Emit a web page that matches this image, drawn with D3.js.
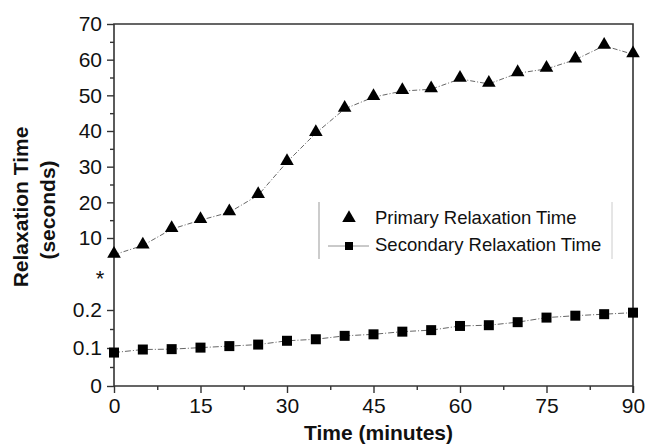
<!DOCTYPE html>
<html>
<head>
<meta charset="utf-8">
<script src="https://cdn.jsdelivr.net/npm/d3@7"></script>
<style>
    body { margin: 0; background: #fff; }
    text { font-family: "Liberation Sans", Arial, sans-serif; fill: #111; }
    .axis line, .axis path { stroke: #333; stroke-width: 1.4px; }
</style>
</head>
<body>
<div id="the_chart"></div>
<script>
// minutes
const times = [0, 5, 10, 15, 20, 25, 30, 35, 40, 45, 50, 55, 60, 65, 70, 75, 80, 85, 90];
// primary relaxation time (s)
const primary = [5.3, 7.9, 12.5, 15.0, 17.2, 22.0, 31.3, 39.4, 46.2, 49.5, 51.2, 51.7, 54.6, 53.2, 56.2, 57.4, 60.0, 63.9, 61.5];
// secondary relaxation time (s)
const secondary = [0.088, 0.096, 0.097, 0.101, 0.105, 0.109, 0.119, 0.123, 0.132, 0.136, 0.143, 0.147, 0.158, 0.160, 0.168, 0.180, 0.185, 0.189, 0.193];
const xTicks = [0, 15, 30, 45, 60, 75, 90];
const upperTicks = [10, 20, 30, 40, 50, 60, 70];
const lowerTicks = [0, 0.1, 0.2];
const seriesNames = ["Primary Relaxation Time", "Secondary Relaxation Time"];

var w = 648, h = 444;
var pLeft = 114, pRight = 633, pTop = 24, pBottom = 386;

var svg = d3.select("#the_chart").append("svg")
    .attr("width", w)
    .attr("height", h);

var x = d3.scaleLinear().domain([0, 90]).range([pLeft, pRight]);
// broken y axis: two scales stacked
var yUp = d3.scaleLinear().domain([4, 70]).range([259.4, pTop]);
var yLow = d3.scaleLinear().domain([0, 0.25]).range([pBottom, 291]);

// x axis
svg.append("g")
    .attr("class", "axis")
    .attr("transform", "translate(0," + pBottom + ")")
    .call(d3.axisBottom(x).tickValues(d3.range(7.5, 90, 15)).tickSize(4).tickFormat(""))
    .call(g => g.select(".domain").remove());
svg.append("g")
    .attr("class", "axis")
    .attr("transform", "translate(0," + pBottom + ")")
    .call(d3.axisBottom(x).tickValues(xTicks).tickSize(7).tickPadding(5).tickFormat(d3.format("d")))
    .call(g => g.select(".domain").remove())
    .call(g => g.selectAll("text").style("font-size", "21px"));

// upper y axis
svg.append("g")
    .attr("class", "axis")
    .attr("transform", "translate(" + pLeft + ",0)")
    .call(d3.axisLeft(yUp).tickValues(d3.range(15, 70, 10)).tickSize(4).tickFormat(""))
    .call(g => g.select(".domain").remove());
svg.append("g")
    .attr("class", "axis")
    .attr("transform", "translate(" + pLeft + ",0)")
    .call(d3.axisLeft(yUp).tickValues(upperTicks).tickSize(7).tickPadding(5).tickFormat(d3.format("d")))
    .call(g => g.select(".domain").remove())
    .call(g => g.selectAll("text").style("font-size", "21px"));

// lower y axis
svg.append("g")
    .attr("class", "axis")
    .attr("transform", "translate(" + pLeft + ",0)")
    .call(d3.axisLeft(yLow).tickValues([0.05, 0.15]).tickSize(4).tickFormat(""))
    .call(g => g.select(".domain").remove());
svg.append("g")
    .attr("class", "axis")
    .attr("transform", "translate(" + pLeft + ",0)")
    .call(d3.axisLeft(yLow).tickValues(lowerTicks).tickSize(7).tickPadding(5).tickFormat(d => d == 0 ? "0" : d3.format(".1f")(d)))
    .call(g => g.select(".domain").remove())
    .call(g => g.selectAll("text").style("font-size", "21px"));

// frame
svg.append("path")
    .attr("d", `M${pLeft},${pBottom}V${pTop}H${pRight}V${pBottom + 7}M${pLeft},${pBottom}H${pRight}`)
    .attr("fill", "none")
    .attr("stroke", "#333")
    .attr("stroke-width", 1.6);

// break marker
svg.append("text")
    .attr("x", 100)
    .attr("y", 286)
    .attr("text-anchor", "middle")
    .style("font-size", "22px")
    .text("*");

// axis titles
svg.append("text")
    .attr("x", x(45) + 5)
    .attr("y", 440)
    .attr("text-anchor", "middle")
    .style("font-size", "21px")
    .style("font-weight", "bold")
    .text("Time (minutes)");
svg.append("text")
    .attr("transform", "translate(28,207) rotate(-90)")
    .attr("text-anchor", "middle")
    .style("font-size", "21px")
    .style("font-weight", "bold")
    .text("Relaxation Time");
svg.append("text")
    .attr("transform", "translate(55,210) rotate(-90)")
    .attr("text-anchor", "middle")
    .style("font-size", "21px")
    .style("font-weight", "bold")
    .text("(seconds)");

// lines
var lineUp = d3.line().x((d, i) => x(times[i])).y(d => yUp(d));
var lineLow = d3.line().x((d, i) => x(times[i])).y(d => yLow(d));

svg.append("path")
    .attr("d", lineUp(primary))
    .attr("fill", "none")
    .attr("stroke", "#555")
    .attr("stroke-width", 0.9)
    .attr("stroke-dasharray", "5,2,1,2");
svg.append("path")
    .attr("d", lineLow(secondary))
    .attr("fill", "none")
    .attr("stroke", "#555")
    .attr("stroke-width", 0.9)
    .attr("stroke-dasharray", "6,2,1,2");

var tri = d3.symbol().type(d3.symbolTriangle).size(80);
var sq = d3.symbol().type(d3.symbolSquare).size(100);

svg.selectAll(".tri")
    .data(primary)
    .enter().append("path")
    .attr("class", "tri")
    .attr("d", tri)
    .attr("transform", (d, i) => "translate(" + x(times[i]) + "," + (yUp(d) - 1) + ")")
    .attr("fill", "#000");

svg.selectAll(".sq")
    .data(secondary)
    .enter().append("path")
    .attr("class", "sq")
    .attr("d", sq)
    .attr("transform", (d, i) => "translate(" + x(times[i]) + "," + yLow(d) + ")")
    .attr("fill", "#000");

// legend
var lg = svg.append("g");
lg.append("line").attr("x1", 319).attr("x2", 319).attr("y1", 202).attr("y2", 259)
    .attr("stroke", "#aaa").attr("stroke-width", 1.2);
lg.append("line").attr("x1", 612).attr("x2", 612).attr("y1", 202).attr("y2", 259)
    .attr("stroke", "#ccc").attr("stroke-width", 1);
lg.append("path").attr("d", tri).attr("transform", "translate(349,218)").attr("fill", "#000");
lg.append("line").attr("x1", 328).attr("x2", 369).attr("y1", 246).attr("y2", 246)
    .attr("stroke", "#888").attr("stroke-width", 0.9);
lg.append("path").attr("d", d3.symbol().type(d3.symbolSquare).size(64)).attr("transform", "translate(349,246)").attr("fill", "#000");
lg.selectAll(".lgtext")
    .data(seriesNames)
    .enter().append("text")
    .attr("x", 375)
    .attr("y", (d, i) => 224 + i * 27)
    .style("font-size", "18.5px")
    .text(d => d);
</script>
</body>
</html>
